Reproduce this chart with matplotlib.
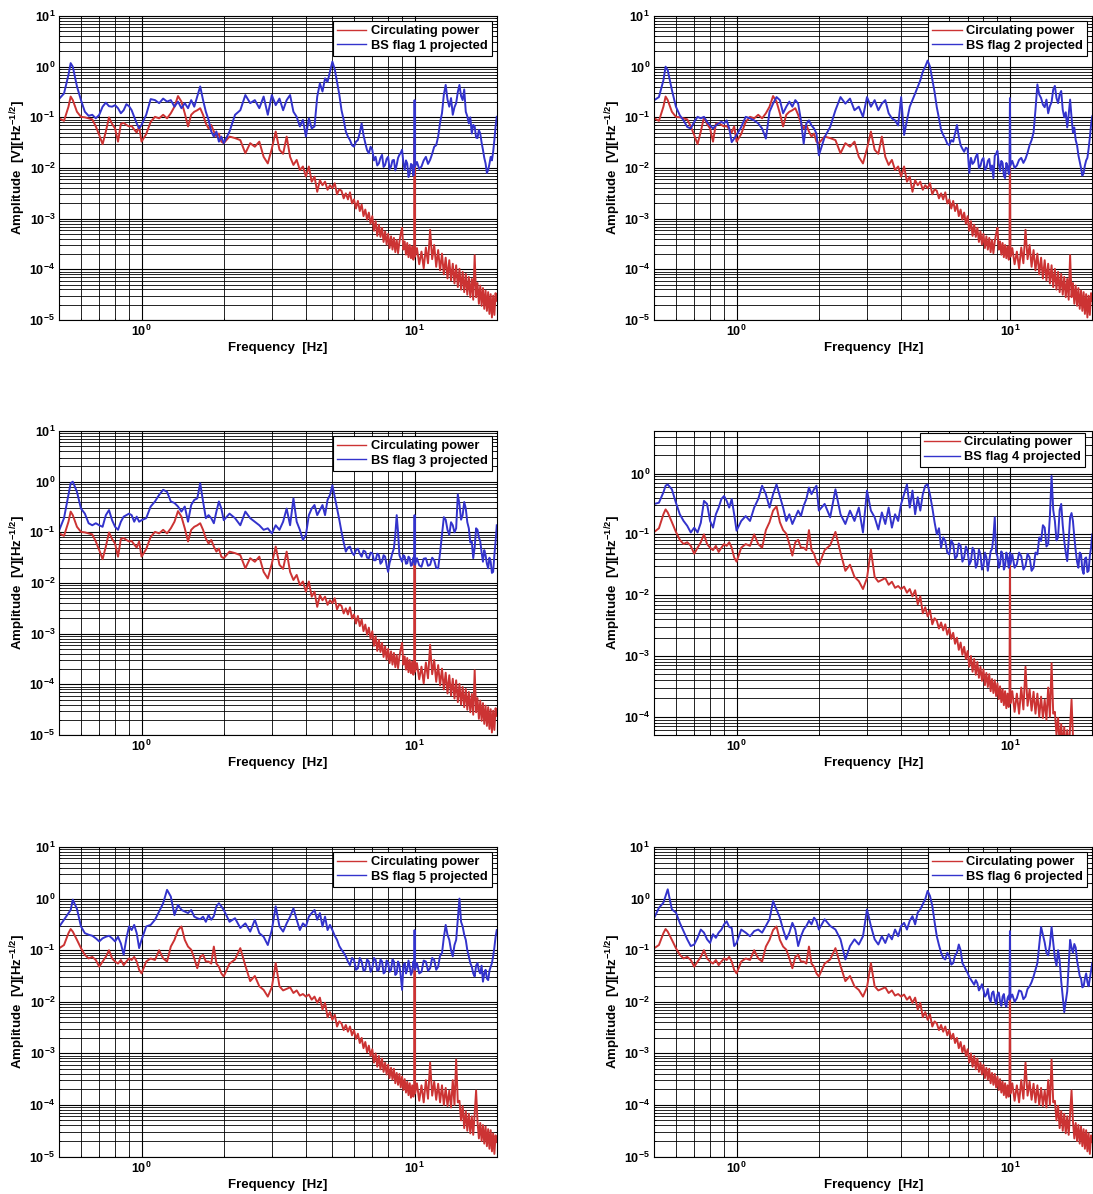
import numpy as np
import matplotlib
matplotlib.use("Agg")
import matplotlib.pyplot as plt
from matplotlib.ticker import FixedLocator, FixedFormatter, LogLocator, NullFormatter

plt.rcParams["font.family"] = ["Liberation Sans", "DejaVu Sans"]
plt.rcParams["font.weight"] = "bold"
plt.rcParams["mathtext.fontset"] = "custom"
plt.rcParams["mathtext.rm"] = "Liberation Sans:bold"
plt.rcParams["mathtext.bf"] = "Liberation Sans:bold"

RED = "#cc3333"
BLUE = "#3333cc"

# frequency points [Hz], shared by every trace
freq_hz = [
    0.50, 0.52, 0.54, 0.55, 0.56, 0.58, 0.60, 0.62, 0.64, 0.66, 0.68, 0.70, 0.72,
    0.74, 0.76, 0.78, 0.80, 0.82, 0.84, 0.86, 0.88, 0.90, 0.92, 0.94, 0.96, 0.98,
    1.00, 1.04, 1.08, 1.12, 1.16, 1.20, 1.24, 1.28, 1.32, 1.36, 1.40, 1.44, 1.48,
    1.52, 1.56, 1.60, 1.64, 1.68, 1.72, 1.76, 1.80, 1.84, 1.88, 1.92, 1.96,
    2.0, 2.1, 2.2, 2.3, 2.4, 2.5, 2.6, 2.7, 2.8, 2.9, 3.0, 3.1, 3.2, 3.3, 3.4,
    3.5, 3.6, 3.7, 3.8, 3.9, 4.0, 4.1, 4.2, 4.3, 4.4, 4.5, 4.6, 4.7, 4.8, 4.9,
    5.0, 5.1, 5.2, 5.3, 5.4, 5.5, 5.6, 5.7, 5.8, 5.9,
    6.0, 6.1, 6.2, 6.3, 6.4, 6.5, 6.6, 6.7, 6.8, 6.9,
    7.0, 7.1, 7.2, 7.3, 7.4, 7.5, 7.6, 7.7, 7.8, 7.9,
    8.0, 8.1, 8.2, 8.3, 8.4, 8.5, 8.6, 8.7, 8.8, 8.9,
    9.0, 9.1, 9.2, 9.3, 9.4, 9.5, 9.6, 9.7, 9.8, 9.9,
    9.96, 10.0, 10.04,
    10.2, 10.4, 10.6, 10.8, 11.0, 11.2, 11.4, 11.6, 11.8, 12.0,
    12.2, 12.4, 12.6, 12.8, 13.0, 13.2, 13.4, 13.6, 13.8, 14.0,
    14.2, 14.4, 14.6, 14.8, 15.0, 15.2, 15.4, 15.6, 15.8, 16.0,
    16.2, 16.4, 16.6, 16.8, 17.0, 17.2, 17.4, 17.6, 17.8, 18.0,
    18.2, 18.4, 18.6, 18.8, 19.0, 19.2, 19.4, 19.6, 19.8, 20.0,
]

# log10 of amplitude [V/sqrt(Hz)]
# circulating power, flags 1-3
red_a_log = [
    -1.02, -1.07, -0.79, -0.59, -0.66, -0.89, -0.99, -1.00, -1.02, -1.04, -1.18, -1.35, -1.53,
    -1.28, -1.00, -1.13, -1.22, -1.48, -1.13, -1.11, -1.15, -1.18, -1.17, -1.24, -1.30, -1.18,
    -1.48, -1.33, -1.09, -0.99, -1.02, -0.95, -1.02, -0.92, -0.79, -0.58, -0.69, -0.92, -1.18,
    -0.95, -0.89, -0.86, -0.82, -0.95, -1.12, -1.22, -1.15, -1.28, -1.38, -1.32, -1.48,
    -1.51, -1.38, -1.41, -1.45, -1.71, -1.51, -1.58, -1.48, -1.78, -1.91, -1.62, -1.28, -1.64, -1.72, -1.38,
    -1.78, -1.94, -1.84, -2.04, -1.97, -2.17, -1.97, -2.27, -2.17, -2.47, -2.24, -2.34, -2.27, -2.43, -2.34,
    -2.40, -2.30, -2.52, -2.42, -2.45, -2.60, -2.50, -2.62, -2.48, -2.70,
    -2.62, -2.80, -2.65, -2.85, -2.72, -2.95, -2.82, -3.02, -2.88, -3.10,
    -2.95, -3.24, -3.05, -3.34, -3.12, -3.36, -3.18, -3.46, -3.25, -3.51,
    -3.30, -3.58, -3.35, -3.61, -3.38, -3.66, -3.42, -3.68, -3.45, -3.30,
    -3.18, -3.61, -3.45, -3.71, -3.48, -3.76, -3.52, -3.78, -3.55, -3.81,
    -3.70, -1.40, -3.75,
    -3.58, -3.90, -3.65, -3.98, -3.57, -3.88, -3.22, -3.80, -3.52, -3.95,
    -3.62, -4.02, -3.69, -4.10, -3.77, -4.18, -3.82, -4.22, -3.89, -4.28,
    -3.92, -4.35, -3.99, -4.40, -4.05, -4.45, -4.09, -4.50, -4.15, -4.55,
    -4.19, -4.60, -3.72, -4.55, -4.27, -4.68, -4.32, -4.72, -4.37, -4.78,
    -4.42, -4.82, -4.45, -4.88, -4.49, -4.95, -4.52, -4.90, -4.47, -4.62,
]

# circulating power, flags 4-6
red_b_log = [
    -0.96, -0.90, -0.67, -0.59, -0.64, -0.80, -0.96, -1.09, -1.16, -1.13, -1.19, -1.32, -1.22,
    -1.13, -1.00, -1.16, -1.22, -1.26, -1.19, -1.29, -1.22, -1.16, -1.19, -1.13, -1.22, -1.38,
    -1.45, -1.22, -1.16, -1.19, -1.00, -1.16, -1.22, -0.93, -0.80, -0.61, -0.54, -0.80, -0.93,
    -0.99, -1.16, -1.35, -1.13, -1.09, -1.22, -1.22, -1.26, -0.93, -1.26, -1.32, -1.45,
    -1.51, -1.26, -1.18, -0.96, -1.30, -1.60, -1.50, -1.70, -1.77, -1.90, -1.72, -1.25, -1.70, -1.78, -1.75,
    -1.72, -1.83, -1.78, -1.88, -1.85, -1.90, -1.86, -1.96, -1.90, -2.02, -1.92, -2.15, -2.02, -2.30, -2.20,
    -2.35, -2.25, -2.48, -2.38, -2.42, -2.55, -2.45, -2.58, -2.48, -2.65,
    -2.55, -2.72, -2.62, -2.80, -2.70, -2.90, -2.78, -2.98, -2.85, -3.05,
    -2.92, -3.18, -3.00, -3.26, -3.05, -3.31, -3.10, -3.36, -3.18, -3.41,
    -3.22, -3.48, -3.28, -3.51, -3.30, -3.58, -3.38, -3.61, -3.40, -3.66,
    -3.45, -3.71, -3.50, -3.76, -3.55, -3.81, -3.58, -3.86, -3.62, -3.84,
    -3.70, -1.35, -3.78,
    -3.58, -3.92, -3.62, -3.95, -3.52, -3.88, -3.18, -3.82, -3.55, -3.90,
    -3.59, -3.95, -3.62, -4.00, -3.67, -4.02, -3.72, -4.05, -3.52, -4.00,
    -3.12, -3.95, -3.92, -4.30, -4.02, -4.45, -4.12, -4.50, -4.17, -4.55,
    -4.22, -4.58, -4.17, -3.72, -4.32, -4.65, -4.35, -4.70, -4.39, -4.75,
    -4.42, -4.80, -4.47, -4.85, -4.49, -4.90, -4.55, -4.95, -4.59, -4.72,
]

blue_1_log = [
    -0.63, -0.53, -0.16, 0.07, 0.00, -0.39, -0.66, -0.89, -0.97, -0.95, -1.02, -0.95, -0.79,
    -0.71, -0.78, -0.79, -0.76, -0.82, -0.92, -0.86, -0.74, -0.78, -0.86, -0.99, -1.12, -1.22,
    -1.15, -0.95, -0.64, -0.66, -0.72, -0.63, -0.69, -0.66, -0.79, -0.69, -0.82, -0.72, -0.82,
    -0.66, -0.79, -0.59, -0.39, -0.66, -0.89, -1.05, -1.28, -1.38, -1.28, -1.48, -1.38,
    -1.51, -1.28, -0.95, -0.86, -0.56, -0.72, -0.66, -0.82, -0.59, -0.95, -0.56, -0.76, -0.63, -0.86, -0.66,
    -0.56, -0.89, -0.99, -1.18, -1.05, -1.38, -1.02, -1.22, -1.18, -0.59, -0.33, -0.49, -0.23, -0.30, -0.10,
    0.10, -0.05, -0.30, -0.55, -0.86, -1.05, -1.28, -1.38, -1.45, -1.55,
    -1.58, -1.48, -1.45, -1.30, -1.12, -1.35, -1.51, -1.65, -1.71, -1.58,
    -1.64, -1.85, -1.78, -1.95, -1.91, -1.80, -1.74, -1.98, -1.94, -1.82,
    -1.78, -2.02, -1.97, -1.85, -1.84, -2.05, -1.94, -1.80, -1.74, -1.70,
    -1.64, -1.90, -2.04, -1.85, -1.91, -2.18, -2.11, -1.92, -1.94, -2.15,
    -2.04, -0.66, -1.97,
    -1.88, -2.02, -1.97, -1.85, -1.78, -1.92, -1.84, -1.72, -1.58, -1.55,
    -1.38, -1.10, -0.92, -0.55, -0.36, -0.65, -0.79, -0.62, -0.95, -0.80,
    -0.72, -0.50, -0.36, -0.58, -0.66, -0.45, -0.89, -0.98, -1.12, -1.00,
    -1.32, -1.15, -1.18, -1.40, -1.41, -1.25, -1.32, -1.50, -1.64, -1.80,
    -1.91, -2.10, -2.04, -1.92, -1.78, -1.85, -1.68, -1.45, -1.18, -0.99,
]

blue_2_log = [
    -0.66, -0.60, -0.27, 0.00, -0.07, -0.46, -0.79, -0.96, -1.06, -1.19, -1.22, -1.09, -0.99,
    -1.02, -0.99, -1.09, -1.16, -1.22, -1.16, -1.12, -1.09, -1.12, -1.06, -1.22, -1.49, -1.42,
    -1.35, -1.19, -0.99, -1.02, -1.06, -1.12, -1.22, -1.42, -0.89, -0.73, -0.60, -0.66, -0.92,
    -0.79, -0.69, -0.79, -0.66, -0.73, -1.06, -1.52, -1.12, -1.06, -1.16, -1.22, -1.32,
    -1.75, -1.39, -1.19, -0.86, -0.60, -0.73, -0.63, -0.86, -0.79, -0.99, -0.60, -0.79, -0.66, -0.86, -0.73,
    -0.66, -0.92, -1.02, -1.06, -1.16, -0.60, -1.35, -1.06, -0.79, -0.66, -0.53, -0.40, -0.27, -0.10, 0.00,
    0.12, 0.00, -0.25, -0.50, -0.80, -1.02, -1.25, -1.35, -1.42, -1.52,
    -1.55, -1.45, -1.48, -1.32, -1.15, -1.38, -1.55, -1.62, -1.68, -1.60,
    -1.62, -2.10, -1.80, -1.92, -1.88, -1.78, -1.72, -2.00, -1.96, -1.84,
    -1.80, -2.04, -2.00, -1.86, -1.82, -2.05, -1.95, -2.20, -1.76, -1.72,
    -1.66, -1.92, -2.06, -1.86, -1.90, -2.15, -2.20, -1.90, -1.96, -2.12,
    -2.10, -0.62, -1.95,
    -1.86, -2.00, -1.95, -1.84, -1.80, -1.90, -1.82, -1.70, -1.55, -1.45,
    -1.30, -0.85, -0.35, -0.55, -0.62, -0.75, -0.80, -0.65, -0.92, -0.78,
    -0.70, -0.45, -0.38, -0.62, -0.72, -0.55, -0.48, -0.85, -1.00, -0.90,
    -1.20, -0.95, -0.65, -1.00, -1.30, -1.20, -1.45, -1.55, -1.75, -1.88,
    -2.00, -2.15, -2.10, -1.95, -1.85, -1.80, -1.62, -1.40, -1.15, -0.98,
]

blue_3_log = [
    -0.95, -0.72, -0.26, -0.03, 0.00, -0.20, -0.53, -0.63, -0.82, -0.86, -0.82, -0.86, -0.89,
    -0.66, -0.56, -0.76, -0.89, -0.95, -0.79, -0.69, -0.66, -0.63, -0.66, -0.79, -0.69, -0.79,
    -0.76, -0.72, -0.49, -0.39, -0.26, -0.16, -0.20, -0.39, -0.42, -0.49, -0.59, -0.49, -0.79,
    -0.46, -0.36, -0.33, -0.03, -0.39, -0.72, -0.66, -0.72, -0.82, -0.59, -0.39, -0.53,
    -0.76, -0.63, -0.72, -0.86, -0.59, -0.72, -0.79, -0.86, -0.95, -0.92, -1.02, -0.86, -0.95, -0.79, -0.53,
    -0.86, -0.33, -0.79, -0.95, -1.15, -1.05, -0.66, -0.53, -0.46, -0.66, -0.56, -0.46, -0.66, -0.36, -0.26,
    -0.07, -0.30, -0.53, -0.75, -0.99, -1.20, -1.38, -1.30, -1.28, -1.40,
    -1.45, -1.35, -1.32, -1.42, -1.48, -1.36, -1.38, -1.50, -1.51, -1.40,
    -1.41, -1.55, -1.55, -1.42, -1.45, -1.62, -1.58, -1.45, -1.48, -1.65,
    -1.78, -1.60, -1.51, -1.40, -1.32, -1.05, -0.66, -1.00, -1.45, -1.52,
    -1.58, -1.45, -1.48, -1.62, -1.61, -1.48, -1.51, -1.66, -1.64, -1.50,
    -1.58, -0.66, -1.64,
    -1.51, -1.65, -1.68, -1.52, -1.51, -1.66, -1.64, -1.50, -1.55, -1.70,
    -1.71, -1.40, -1.05, -0.70, -0.75, -0.95, -1.05, -0.80, -0.86, -1.00,
    -0.92, -0.25, -0.45, -0.75, -0.66, -0.40, -0.53, -0.80, -0.92, -1.20,
    -1.18, -1.51, -1.30, -0.92, -0.95, -1.10, -1.18, -1.40, -1.58, -1.35,
    -1.45, -1.62, -1.71, -1.50, -1.58, -1.80, -1.78, -1.45, -1.18, -0.86,
]

blue_4_log = [
    -0.50, -0.48, -0.31, -0.20, -0.18, -0.26, -0.48, -0.67, -0.78, -0.86, -0.97, -0.89, -0.97,
    -0.81, -0.45, -0.50, -0.78, -0.89, -0.67, -0.56, -0.42, -0.37, -0.45, -0.56, -0.42, -0.67,
    -0.94, -0.78, -0.70, -0.78, -0.56, -0.42, -0.20, -0.34, -0.56, -0.34, -0.18, -0.37, -0.56,
    -0.78, -0.67, -0.83, -0.72, -0.61, -0.70, -0.53, -0.42, -0.23, -0.34, -0.26, -0.20,
    -0.61, -0.50, -0.72, -0.26, -0.67, -0.83, -0.61, -0.78, -0.56, -0.97, -0.28, -0.61, -0.72, -0.92, -0.64,
    -0.83, -0.56, -0.89, -0.67, -0.78, -0.50, -0.34, -0.18, -0.56, -0.28, -0.67, -0.39, -0.61, -0.34, -0.20,
    -0.18, -0.35, -0.56, -0.80, -1.00, -0.90, -1.22, -1.05, -1.11, -1.30,
    -1.33, -1.10, -1.16, -1.40, -1.36, -1.15, -1.19, -1.45, -1.38, -1.20,
    -1.27, -1.50, -1.44, -1.22, -1.27, -1.55, -1.49, -1.25, -1.33, -1.58,
    -1.52, -1.30, -1.38, -1.60, -1.44, -1.28, -1.24, -1.05, -0.72, -1.30,
    -1.36, -1.55, -1.49, -1.28, -1.33, -1.58, -1.52, -1.30, -1.38, -1.55,
    -1.44, -1.30, -1.49,
    -1.33, -1.55, -1.49, -1.30, -1.36, -1.58, -1.52, -1.32, -1.38, -1.60,
    -1.55, -1.30, -1.33, -1.05, -1.11, -0.85, -0.89, -1.20, -1.16, -0.70,
    -0.04, -0.60, -0.78, -1.10, -1.05, -0.60, -0.50, -0.85, -1.11, -1.30,
    -1.44, -1.10, -0.72, -0.65, -0.78, -1.05, -1.27, -1.45, -1.55, -1.30,
    -1.33, -1.58, -1.65, -1.40, -1.38, -1.62, -1.60, -1.35, -1.22, -1.00,
]

blue_5_log = [
    -0.54, -0.41, -0.28, -0.22, -0.02, -0.20, -0.54, -0.67, -0.70, -0.72, -0.77, -0.83, -0.77,
    -0.74, -0.72, -0.77, -0.83, -0.74, -0.87, -1.09, -0.77, -0.54, -0.61, -0.51, -0.67, -0.96,
    -0.80, -0.54, -0.51, -0.41, -0.25, -0.09, 0.17, 0.04, -0.32, -0.12, -0.22, -0.25, -0.28,
    -0.22, -0.35, -0.38, -0.40, -0.35, -0.45, -0.32, -0.41, -0.34, -0.15, -0.09, -0.15,
    -0.22, -0.45, -0.38, -0.57, -0.48, -0.64, -0.41, -0.67, -0.74, -0.90, -0.61, -0.15, -0.54, -0.64, -0.48,
    -0.35, -0.19, -0.41, -0.61, -0.48, -0.54, -0.35, -0.28, -0.22, -0.41, -0.28, -0.54, -0.35, -0.61, -0.51,
    -0.61, -0.72, -0.80, -0.92, -0.99, -1.05, -1.12, -1.22, -1.29, -1.15,
    -1.19, -1.38, -1.35, -1.15, -1.22, -1.40, -1.38, -1.18, -1.22, -1.42,
    -1.35, -1.15, -1.19, -1.40, -1.38, -1.18, -1.22, -1.45, -1.42, -1.20,
    -1.25, -1.42, -1.38, -1.18, -1.22, -1.48, -1.45, -1.22, -1.29, -1.50,
    -1.77, -1.30, -1.25, -1.45, -1.38, -1.20, -1.32, -1.48, -1.42, -1.22,
    -1.32, -0.61, -1.38,
    -1.25, -1.45, -1.42, -1.20, -1.22, -1.40, -1.35, -1.15, -1.19, -1.38,
    -1.32, -1.10, -1.06, -0.75, -0.51, -0.70, -0.80, -1.00, -1.12, -0.90,
    -0.80, -0.40, 0.00, -0.45, -0.54, -0.70, -0.80, -1.00, -1.12, -1.25,
    -1.32, -1.45, -1.51, -1.30, -1.25, -1.40, -1.45, -1.30, -1.61, -1.45,
    -1.38, -1.55, -1.58, -1.40, -1.32, -1.25, -1.12, -0.95, -0.74, -0.61,
]

blue_6_log = [
    -0.37, -0.18, -0.08, 0.05, 0.18, -0.21, -0.27, -0.47, -0.63, -0.79, -0.92, -0.89, -0.76,
    -0.60, -0.66, -0.79, -0.86, -0.69, -0.76, -0.66, -0.60, -0.50, -0.44, -0.55, -0.57, -0.92,
    -0.86, -0.60, -0.66, -0.73, -0.63, -0.60, -0.66, -0.53, -0.40, -0.05, -0.21, -0.37, -0.60,
    -0.79, -0.66, -0.47, -0.60, -0.92, -0.73, -0.60, -0.53, -0.43, -0.50, -0.37, -0.43,
    -0.60, -0.40, -0.53, -0.60, -0.79, -1.18, -0.92, -0.79, -0.89, -0.73, -0.21, -0.53, -0.79, -0.89, -0.73,
    -0.86, -0.69, -0.79, -0.60, -0.73, -0.53, -0.47, -0.60, -0.43, -0.34, -0.50, -0.27, -0.21, -0.11, -0.01,
    0.15, 0.05, -0.14, -0.45, -0.73, -0.90, -1.05, -1.15, -1.18, -1.05,
    -1.12, -1.28, -1.25, -1.10, -1.05, -0.89, -1.00, -1.25, -1.31, -1.38,
    -1.44, -1.52, -1.57, -1.62, -1.67, -1.58, -1.64, -1.78, -1.73, -1.66,
    -1.77, -1.90, -1.86, -1.75, -1.93, -2.00, -1.83, -1.80, -1.96, -2.05,
    -1.86, -1.82, -1.99, -2.08, -1.90, -1.85, -2.03, -2.10, -1.93, -1.88,
    -1.96, -0.63, -1.93,
    -1.86, -2.00, -1.93, -1.78, -1.80, -1.95, -1.90, -1.75, -1.70, -1.62,
    -1.51, -1.38, -1.25, -0.90, -0.55, -0.70, -0.85, -1.05, -1.10, -0.90,
    -0.55, -0.85, -1.15, -1.30, -1.00, -1.20, -1.60, -1.90, -2.20, -2.00,
    -1.80, -1.30, -0.80, -0.95, -1.05, -0.88, -0.95, -1.20, -1.35, -1.50,
    -1.55, -1.72, -1.70, -1.55, -1.45, -1.62, -1.70, -1.55, -1.40, -1.25,
]

flag_numbers = [1, 2, 3, 4, 5, 6]
red_traces = [red_a_log, red_a_log, red_a_log, red_b_log, red_b_log, red_b_log]
blue_traces = [blue_1_log, blue_2_log, blue_3_log, blue_4_log, blue_5_log, blue_6_log]
y_limits = [(1e-5, 1e1), (1e-5, 1e1), (1e-5, 1e1), (5e-5, 5e0), (1e-5, 1e1), (1e-5, 1e1)]

# axes boxes in figure fractions (left, bottom, width, height)
positions = [
    (0.0543, 0.7320, 0.4002, 0.2546),
    (0.5986, 0.7320, 0.4007, 0.2546),
    (0.0543, 0.3844, 0.4002, 0.2546),
    (0.5986, 0.3844, 0.4007, 0.2546),
    (0.0543, 0.0314, 0.4002, 0.2592),
    (0.5986, 0.0314, 0.4007, 0.2592),
]


def decade_labels(exponents):
    return [r"$\mathbf{10^{%d}}$" % e for e in exponents]


def style_axes(ax, ylim):
    ax.set_xscale("log")
    ax.set_yscale("log")
    ax.set_xlim(0.5, 20)
    ax.set_ylim(*ylim)

    x_exp = [0, 1]
    ax.xaxis.set_major_locator(FixedLocator([10.0 ** e for e in x_exp]))
    ax.xaxis.set_major_formatter(FixedFormatter(decade_labels(x_exp)))
    ax.xaxis.set_minor_locator(LogLocator(base=10, subs=np.arange(2, 10), numticks=50))
    ax.xaxis.set_minor_formatter(NullFormatter())

    lo = int(np.ceil(np.log10(ylim[0]) - 1e-9))
    hi = int(np.floor(np.log10(ylim[1]) + 1e-9))
    y_exp = list(range(lo, hi + 1))
    ax.yaxis.set_major_locator(FixedLocator([10.0 ** e for e in y_exp]))
    ax.yaxis.set_major_formatter(FixedFormatter(decade_labels(y_exp)))
    ax.yaxis.set_minor_locator(LogLocator(base=10, subs=np.arange(2, 10), numticks=50))
    ax.yaxis.set_minor_formatter(NullFormatter())

    ax.grid(True, which="major", color="k", lw=0.8, ls="-")
    ax.grid(True, which="minor", color="k", lw=0.6, ls="-")
    ax.tick_params(which="both", direction="in", top=True, right=True, labelsize=9, width=0.6)
    ax.tick_params(which="major", length=3, pad=3)
    ax.tick_params(which="minor", length=1.5)
    for sp in ax.spines.values():
        sp.set_linewidth(0.8)

    ax.set_xlabel("Frequency  [Hz]", fontsize=9.5, fontweight="bold", labelpad=2)
    ax.set_ylabel(r"Amplitude  [V][Hz$^{\mathbf{-1/2}}$]", fontsize=9.5, fontweight="bold", labelpad=1)


fig = plt.figure(figsize=(10.93, 11.94), dpi=100)

for pos, flag, red, blue, ylim in zip(positions, flag_numbers, red_traces, blue_traces, y_limits):
    ax = fig.add_axes(pos)
    ax.plot(freq_hz, 10.0 ** np.array(red), color=RED, lw=1.4, label="Circulating power")
    ax.plot(freq_hz, 10.0 ** np.array(blue), color=BLUE, lw=1.4, label=f"BS flag {flag} projected")
    style_axes(ax, ylim)

    # the flag 4 legend sits tighter to the top and has a longer line sample
    if flag == 4:
        legend_kw = dict(bbox_to_anchor=(0.984, 0.995), borderaxespad=0, handlelength=2.8)
    else:
        legend_kw = dict(borderaxespad=0.4, handlelength=2.3)
    leg = ax.legend(loc="upper right", prop={"size": 9.3, "weight": "bold"},
                    fancybox=False, edgecolor="k", framealpha=1,
                    handletextpad=0.35, borderpad=0.3, labelspacing=0.2, **legend_kw)
    leg.get_frame().set_linewidth(0.8)
    for line in leg.get_lines():
        line.set_linewidth(1.0)

fig.savefig("out.png", dpi=100)
